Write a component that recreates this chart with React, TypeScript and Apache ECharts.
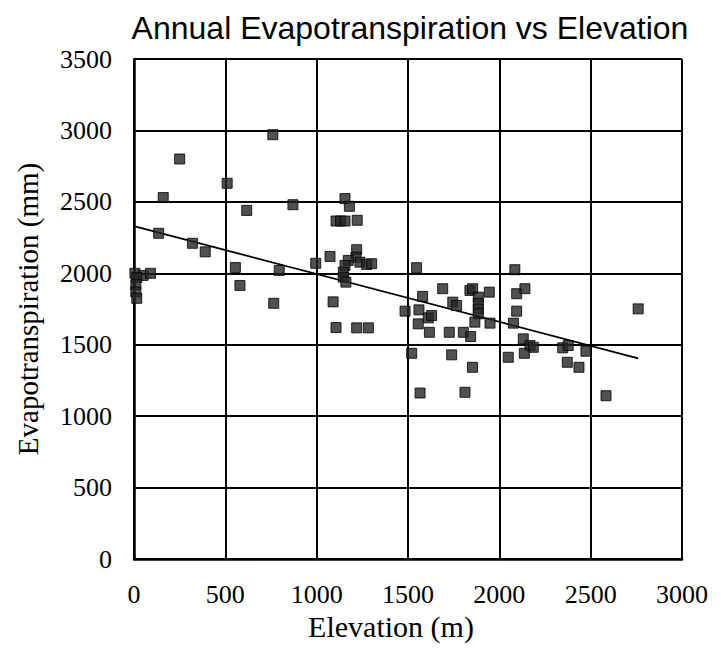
import React, { useEffect, useRef } from "react";
import * as echarts from "echarts";

const elevation: number[] = [
  5, 50, 90, 15, 10, 10, 15,
  135, 160, 250, 320, 390, 510, 555, 580, 617, 760, 765, 795, 870, 995, 1073,
  1090, 1106, 1106, 1131, 1155, 1155, 1179, 1222, 1219, 1215, 1237, 1274, 1301, 1173, 1155, 1146, 1146, 1160, 1219, 1283,
  1484, 1520, 1547, 1556, 1560, 1566, 1580, 1611, 1629, 1617, 1690, 1726, 1739, 1745, 1766, 1803, 1812, 1843, 1853, 1839, 1854, 1885, 1885, 1885, 1885, 1866, 1949, 1945,
  2049, 2077, 2085, 2095, 2140, 2095, 2131, 2168, 2186, 2137, 2347, 2377, 2372, 2436, 2474, 2584, 2760,
];

const evapotranspiration: number[] = [
  2000, 1985, 2000, 1970, 1920, 1870, 1825,
  2280, 2530, 2800, 2210, 2150, 2630, 2040, 1915, 2440, 2970, 1790, 2020, 2480, 2070, 2118,
  1800, 1620, 2366, 2366, 2366, 2523, 2469, 2371, 2165, 2113, 2078, 2062, 2067, 2090, 2055, 2008, 1973, 1938, 1618, 1618,
  1735, 1440, 2039, 1646, 1744, 1162, 1838, 1688, 1704, 1587, 1892, 1587, 1429, 1798, 1774, 1587, 1167, 1557, 1342, 1880, 1892, 1833, 1790, 1750, 1716, 1658, 1651, 1868,
  1412, 1651, 2025, 1857, 1892, 1735, 1541, 1494, 1482, 1440, 1478, 1494, 1377, 1342, 1454, 1143, 1751,
];

const trendElevation: number[] = [0, 2760];
const trendEvapotranspiration: number[] = [2330, 1405];

const titleText = "Annual Evapotranspiration vs Elevation";
const xName = "Elevation (m)";
const yName = "Evapotranspiration (mm)";

export default function App() {
  const ref = useRef<HTMLDivElement>(null);
  useEffect(() => {
    if (!ref.current) return;
    const chart = echarts.init(ref.current, null, { renderer: "svg" });
    const points = elevation.map((x, i) => [x, evapotranspiration[i]]);
    const trend = trendElevation.map((x, i) => [x, trendEvapotranspiration[i]]);
    const serif = "Liberation Serif";
    const tickLabel = {
      margin: 22,
      fontFamily: serif,
      fontSize: 26,
      color: "#000",
      formatter: (v: number) => String(v),
    };
    chart.setOption({
      animation: false,
      backgroundColor: "#fff",
      title: {
        text: titleText,
        left: 405,
        textAlign: "center",
        top: 7,
        textStyle: {
          fontFamily: "Liberation Sans",
          fontWeight: "normal",
          fontSize: 32,
          color: "#000",
        },
      },
      grid: { left: 134, right: 39, top: 59, bottom: 91 },
      xAxis: {
        type: "value",
        min: 0,
        max: 3000,
        interval: 500,
        name: xName,
        nameLocation: "middle",
        nameGap: 52,
        nameTextStyle: {
          fontFamily: serif,
          fontSize: 30,
          color: "#000",
          padding: [0, 34, 0, 0],
        },
        axisLine: { show: true, lineStyle: { color: "#000", width: 2.5 } },
        axisTick: { show: false },
        splitLine: { show: true, lineStyle: { color: "#000", width: 2 } },
        axisLabel: tickLabel,
      },
      yAxis: {
        type: "value",
        min: 0,
        max: 3500,
        interval: 500,
        name: yName,
        nameLocation: "middle",
        nameGap: 92,
        nameRotate: 90,
        nameTextStyle: {
          fontFamily: serif,
          fontSize: 29,
          color: "#000",
        },
        axisLine: { show: true, lineStyle: { color: "#000", width: 2.5 } },
        axisTick: { show: false },
        splitLine: { show: true, lineStyle: { color: "#000", width: 2 } },
        axisLabel: tickLabel,
      },
      series: [
        {
          type: "line",
          data: trend,
          symbol: "none",
          lineStyle: { color: "#000", width: 1.8 },
          z: 3,
        },
        {
          type: "scatter",
          data: points,
          symbol: "rect",
          symbolSize: 10,
          itemStyle: { color: "#262626", borderColor: "#000", borderWidth: 1 },
          z: 4,
        },
      ],
    });
    return () => chart.dispose();
  }, []);
  return <div ref={ref} style={{ width: 721, height: 650, position: "absolute", left: 0, top: 0 }} />;
}
